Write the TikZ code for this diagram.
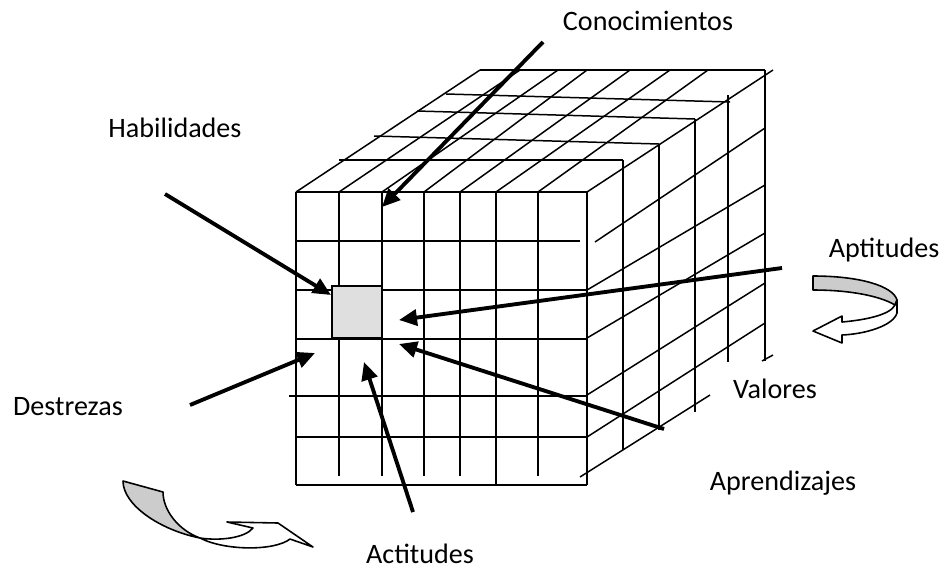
\documentclass[tikz,border=0pt]{standalone}
\usepackage{fontspec}
\setmainfont{Carlito}
\usepackage{tikz}
\usetikzlibrary{arrows.meta}

\begin{document}
\begin{tikzpicture}[x=0.02cm, y=-0.02cm,
    rejilla/.style={line width=0.85pt},
    flecha/.style={line width=2.2pt, -{Triangle[length=0.36cm, width=0.32cm]}},
    etiqueta/.style={anchor=base, font=\fontsize{16}{19}\selectfont},
    cinta/.style={line width=0.9pt, line join=round}]
    \useasboundingbox (0,0) rectangle (945,575);

    % Top face
    \foreach \a/\b in {296/480, 339/520, 382/558, 424/587, 460/630, 496/670, 538/708}
        \draw[rejilla] (\a,192) -- (\b,70);
    \draw[rejilla] (480,70) -- (765,70);
    \draw[rejilla] (446,94) -- (730,102);
    \draw[rejilla] (417,111) -- (695,119);
    \draw[rejilla] (374,136) -- (659,144);
    \draw[rejilla] (339,160) -- (623,160);

    % Layer edges behind the front face
    \draw[rejilla] (765,70) -- (765,361);
    \draw[rejilla] (728,95) -- (728,362);
    \draw[rejilla] (695,119) -- (695,412);
    \draw[rejilla] (659,144) -- (659,430);
    \draw[rejilla] (623,160) -- (623,450);

    % Right face
    \draw[rejilla] (587,192) -- (773,70);
    \draw[rejilla] (595,242) -- (765,128);
    \draw[rejilla] (587,290) -- (765,185);
    \draw[rejilla] (587,338) -- (765,233);
    \draw[rejilla] (587,395) -- (765,283);
    \draw[rejilla] (587,437) -- (765,323);
    \draw[rejilla] (580,477) -- (710,395);
    \draw[rejilla] (762,361) -- (773,355);

    % Front face
    \foreach \x/\yb in {296/485, 339/476, 382/476, 424/476, 460/476, 496/485, 538/476, 587/485}
        \draw[rejilla] (\x,192) -- (\x,\yb);
    \foreach \y/\xa/\xb in {192/296/587, 241/296/580, 290/296/587, 339/296/587, 396/289/587, 437/296/587, 485/296/587}
        \draw[rejilla] (\xa,\y) -- (\xb,\y);

    % Marked cell
    \node[draw, line width=1.4pt, fill=gray!25, inner sep=0pt,
          minimum width=1cm, minimum height=1.04cm] (celda) at (357,312) {};

    % Labels
    \node[etiqueta] (conocimientos) at (648,30) {Conocimientos};
    \node[etiqueta] (habilidades) at (175,137) {Habilidades};
    \node[etiqueta] (aptitudes) at (884,257) {Aptitudes};
    \node[etiqueta] (destrezas) at (68,415) {Destrezas};
    \node[etiqueta] (valores) at (775,398) {Valores};
    \node[etiqueta] (aprendizajes) at (783,490) {Aprendizajes};
    \node[etiqueta] (actitudes) at (420,563) {Actitudes};

    % Arrows
    \coordinate (con-a) at (543,42);   \coordinate (con-b) at (382,207);
    \coordinate (hab-a) at (165,194);  \coordinate (hab-b) at (331,295);
    \coordinate (apt-a) at (782,268);  \coordinate (apt-b) at (399,320);
    \coordinate (des-a) at (190,405);  \coordinate (des-b) at (315,353);
    \coordinate (act-a) at (413,512);  \coordinate (act-b) at (364,362);
    \coordinate (apr-a) at (664,429);  \coordinate (apr-b) at (399,344);
    \draw[flecha] (con-a) -- (con-b);
    \draw[flecha] (hab-a) -- (hab-b);
    \draw[flecha] (apt-a) -- (apt-b);
    \draw[flecha] (des-a) -- (des-b);
    \draw[flecha] (act-a) -- (act-b);
    \draw[flecha] (apr-a) -- (apr-b);

    % Turning arrow, right
    \draw[cinta, fill=gray!40] (813,276) .. controls (860,276) and (893,286) .. (897,300)
        -- (895,305) .. controls (880,296) and (850,290) .. (813,290) -- cycle;
    \draw[cinta, fill=white] (897,300) -- (897,313) .. controls (893,326) and (865,334) .. (842,335)
        -- (842,343) -- (813,331) -- (842,316) -- (842,322)
        .. controls (865,320) and (890,315) .. (895,305) -- cycle;

    % Turning arrow, bottom left
    \draw[cinta, fill=gray!40] (123,481) -- (163,492) .. controls (163,510) and (178,530) .. (200,538)
        .. controls (160,530) and (123,505) .. (123,481) -- cycle;
    \draw[cinta, fill=white] (200,538) .. controls (220,541) and (245,538) .. (253,528)
        -- (227,522) -- (278,523) -- (313,547) -- (290,539)
        .. controls (275,551) and (225,551) .. (200,538) -- cycle;
\end{tikzpicture}
\end{document}
